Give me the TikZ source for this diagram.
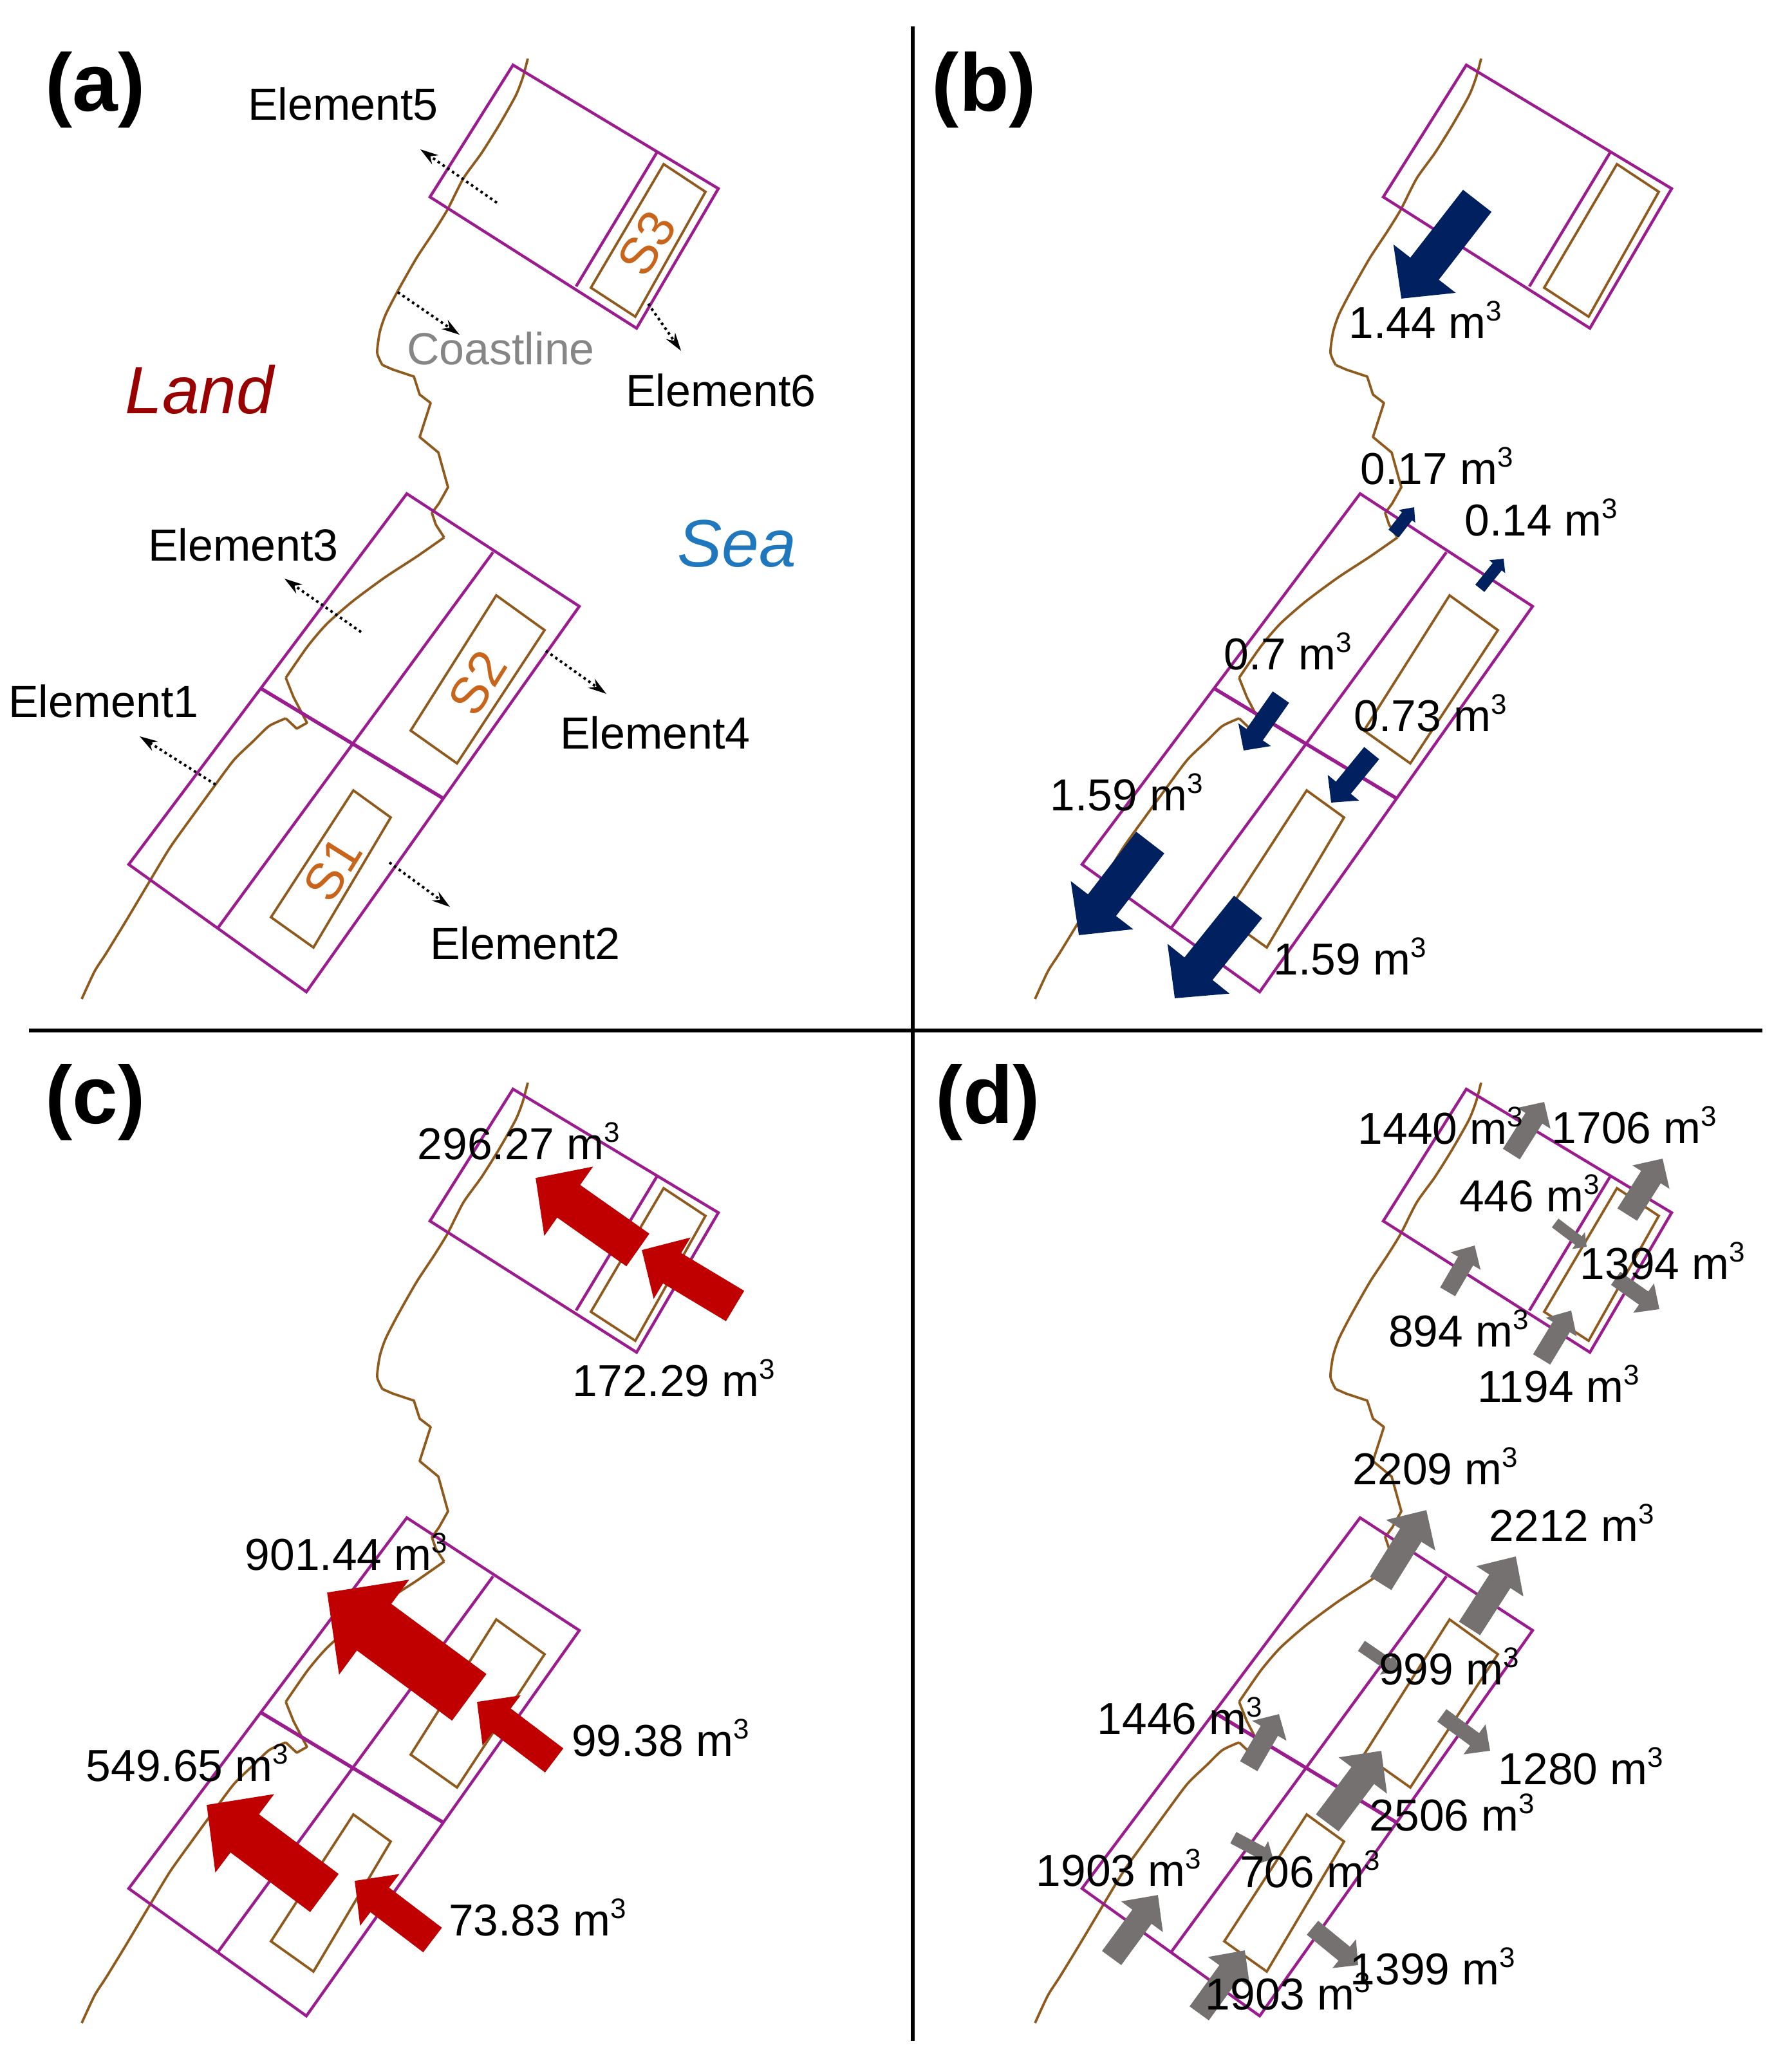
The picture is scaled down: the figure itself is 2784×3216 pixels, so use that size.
\documentclass[tikz,border=0pt]{standalone}
\usepackage{fontspec}
\setmainfont{Liberation Sans}
\usetikzlibrary{arrows.meta}
\definecolor{cellpurple}{HTML}{9B1C8E}
\definecolor{coastbrown}{HTML}{8F5A1E}
\definecolor{sorange}{HTML}{C8651B}
\definecolor{navyflow}{HTML}{002060}
\definecolor{redflow}{HTML}{C00000}
\definecolor{greyflow}{HTML}{767171}
\definecolor{landred}{HTML}{990000}
\definecolor{seablue}{HTML}{1F78BE}
\definecolor{coastgrey}{HTML}{868686}
\newcommand\cbm{m\raisebox{0.38em}{\fontsize{44}{44}\selectfont 3}}
\newcommand\vol[4]{\node[vollabel] (#1) at (#2,{#3+24}) {#4 \cbm};}
\newcommand\blockarr[6]{\draw[line width=#4pt,draw=#3,-{Triangle[length=#6pt,width=#5pt,fill=#3]}] (#1) -- (#2);}
\newcommand\basemap[2]{%
\begin{scope}[shift={(#1,#2)}]
 \draw[coastline] plot[smooth,tension=0.4] coordinates {(820,91)(812,121)(801,149)(775,195)(748,238)(720,277)(695,326)(674,360)(647,401)(618,452)(599,489)(590,516)(586,548)(594,567)};
 \draw[coastline] (594,567)--(610,574)--(643,585)--(652,613)--(669,626)--(652,679)--(681,703)--(696,757)--(682,782)--(671,797)--(677,815)--(690,835);
 \draw[coastline] plot[smooth,tension=0.4] coordinates {(690,835)(647,865)(598,897)(548,934)(508,969)(478,1004)(444,1053)};
 \draw[coastline] (444,1053)--(456,1083)--(468,1106)--(477,1123)--(461,1132)--(444,1116);
 \draw[coastline] plot[smooth,tension=0.4] coordinates {(444,1116)(418,1128)(394,1151)(364,1180)(334,1220)(299,1268)(264,1317)(232,1370)(195,1432)(165,1481)(147,1509)(127,1552)};
 \draw[cellline] (797,101)--(1116,293)--(989,510)--(668,306)--cycle;
 \draw[cellline] (1021,236)--(895,445);
 \draw[cellline] (632,767)--(900,942)--(476,1541)--(200,1343)--cycle;
 \draw[cellline,line width=5.5pt] (406,1070)--(688,1240);
 \draw[cellline] (766,858)--(339,1441);
 \draw[sedline] (1031,255)--(1096,298)--(987,492)--(918,447)--cycle;
 \draw[sedline] (771,925)--(846,979)--(710,1186)--(638,1135)--cycle;
 \draw[sedline] (549,1228)--(607,1270)--(487,1472)--(421,1425)--cycle;
\end{scope}}
\tikzset{
 coastline/.style={draw=coastbrown,line width=3.8pt,line join=round},
 cellline/.style={draw=cellpurple,line width=4.4pt,line join=miter},
 sedline/.style={draw=coastbrown,line width=3.8pt,line join=miter},
 framerule/.style={draw=black,line width=6.5pt},
 paneltag/.style={font=\fontsize{127}{135}\bfseries\selectfont,inner sep=0pt},
 elemlabel/.style={font=\fontsize{70}{76}\selectfont,inner sep=0pt,text=black},
 vollabel/.style={font=\fontsize{69.5}{75}\selectfont,inner sep=0pt,anchor=base,text=black},
 arealabel/.style={font=\fontsize{104}{112}\itshape\selectfont,inner sep=0pt},
 sitelabel/.style={font=\fontsize{80}{84}\selectfont,inner sep=0pt,text=sorange},
 dotarrow/.style={draw=black,line width=4pt,dash pattern=on 4pt off 5pt,-{Stealth[length=28pt,width=17pt,fill=black]}},
}
\begin{document}
\begin{tikzpicture}[x=1pt,y=-1pt]
\useasboundingbox (0,0) rectangle (2784,3216);
% frame
\draw[framerule] (1418,41) -- (1418,3171);
\draw[framerule] (45,1601) -- (2738,1601);
% maps
\basemap{0}{0}
\basemap{1481}{0}
\basemap{0}{1591}
\basemap{1481}{1591}
% panel (a)
\coordinate (e5a) at (772,315); \coordinate (e5b) at (653,232);
\coordinate (cla) at (618,454); \coordinate (clb) at (714,520);
\coordinate (e6a) at (1007,472); \coordinate (e6b) at (1058,545);
\coordinate (e3a) at (561,982); \coordinate (e3b) at (442,899);
\coordinate (e4a) at (848,1011); \coordinate (e4b) at (942,1078);
\coordinate (e1a) at (335,1219); \coordinate (e1b) at (217,1144);
\coordinate (e2a) at (605,1340); \coordinate (e2b) at (699,1409);
\foreach \p/\q in {e5a/e5b,cla/clb,e6a/e6b,e3a/e3b,e4a/e4b,e1a/e1b,e2a/e2b}
  \draw[dotarrow] (\p) -- (\q);
\node[paneltag] (tagA) at (148,140) {(a)};
\node[elemlabel] (el5) at (533,161) {Element5};
\node[elemlabel] (el6) at (1120,606) {Element6};
\node[elemlabel] (el3) at (378,846) {Element3};
\node[elemlabel] (el1) at (161,1089) {Element1};
\node[elemlabel] (el4) at (1018,1138) {Element4};
\node[elemlabel] (el2) at (816,1465) {Element2};
\node[elemlabel,text=coastgrey] (coastlab) at (778,541) {Coastline};
\node[arealabel,text=landred] (land) at (310,605) {Land};
\node[arealabel,text=seablue] (sea) at (1145,845) {Sea};
\node[sitelabel,rotate=58] (s3) at (1005,378) {S3};
\node[sitelabel,rotate=58] (s2) at (742,1061) {S2};
\node[sitelabel,rotate=58] (s1) at (517,1350) {S1};
% panel (b)
\blockarr{2295,312}{2177,464}{navyflow}{56}{119}{59}
\blockarr{1787,1309}{1676,1453}{navyflow}{55}{119}{59}
\blockarr{1939,1409}{1825,1551}{navyflow}{56}{120}{59}
\blockarr{1990,1083}{1932,1166}{navyflow}{31}{60}{30}
\blockarr{2131,1170}{2068,1247}{navyflow}{30}{61}{30}
\blockarr{2165,829}{2197,788}{navyflow}{20}{31}{18}
\blockarr{2299,914}{2336,868}{navyflow}{18}{31}{16}
\node[paneltag] (tagB) at (1529,140) {(b)};
\vol{b1}{2214}{501}{1.44}
\vol{b2}{2232}{728}{0.17}
\vol{b3}{2394}{808}{0.14}
\vol{b4}{2001}{1016}{0.7}
\vol{b5}{2222}{1112}{0.73}
\vol{b6}{1750}{1235}{1.59}
\vol{b7}{2097}{1490}{1.59}
% panel (c)
\blockarr{991,1942}{832,1830}{redflow}{62}{128}{63}
\blockarr{1142,2029}{997,1942}{redflow}{55}{108}{55}
\blockarr{729,2637}{508,2474}{redflow}{90}{178}{91}
\blockarr{861,2735}{741,2644}{redflow}{47}{95}{48}
\blockarr{504,2941}{321,2804}{redflow}{74}{148}{74}
\blockarr{672,3014}{551,2922}{redflow}{48}{98}{49}
\node[paneltag] (tagC) at (148,1713) {(c)};
\vol{c1}{806}{1777}{296.27}
\vol{c2}{1047}{2145}{172.29}
\vol{c3}{538}{2415}{901.44}
\vol{c4}{1026}{2704}{99.38}
\vol{c5}{291}{2743}{549.65}
\vol{c6}{835}{2983}{73.83}
% panel (d)
\blockarr{2348,1793}{2399,1712}{greyflow}{31}{59}{30}
\blockarr{2528,1887}{2583,1800}{greyflow}{36}{66}{34}
\blockarr{2416,1900}{2465,1937}{greyflow}{17}{32}{16}
\blockarr{2510,1986}{2578,2034}{greyflow}{25}{54}{30}
\blockarr{2249,2007}{2291,1935}{greyflow}{27}{52}{28}
\blockarr{2395,2112}{2441,2036}{greyflow}{31}{54}{30}
\blockarr{2145,2460}{2216,2346}{greyflow}{39}{87}{46}
\blockarr{2283,2530}{2355,2418}{greyflow}{39}{84}{46}
\blockarr{2115,2557}{2172,2596}{greyflow}{19}{40}{20}
\blockarr{2240,2665}{2315,2720}{greyflow}{24}{56}{30}
\blockarr{1940,2744}{1987,2663}{greyflow}{31}{60}{30}
\blockarr{2062,2832}{2146,2720}{greyflow}{44}{91}{48}
\blockarr{1916,2855}{1978,2888}{greyflow}{20}{40}{20}
\blockarr{1727,3042}{1799,2944}{greyflow}{37}{78}{42}
\blockarr{1863,3128}{1934,3030}{greyflow}{37}{78}{42}
\blockarr{2039,2995}{2110,3053}{greyflow}{28}{56}{28}
\node[paneltag] (tagD) at (1535,1713) {(d)};
\vol{d1}{2238}{1753}{1440}
\vol{d2}{2539}{1752}{1706}
\vol{d3}{2376}{1858}{446}
\vol{d4}{2583}{1963}{1394}
\vol{d5}{2266}{2068}{894}
\vol{d6}{2421}{2154}{1194}
\vol{d7}{2230}{2282}{2209}
\vol{d8}{2442}{2370}{2212}
\vol{d9}{2251}{2593}{999}
\vol{d10}{2456}{2748}{1280}
\vol{d11}{1833}{2670}{1446}
\vol{d12}{2256}{2820}{2506}
\vol{d13}{1738}{2906}{1903}
\vol{d14}{2035}{2908}{706}
\vol{d15}{2001}{3098}{1903}
\vol{d16}{2226}{3059}{1399}
\end{tikzpicture}
\end{document}
